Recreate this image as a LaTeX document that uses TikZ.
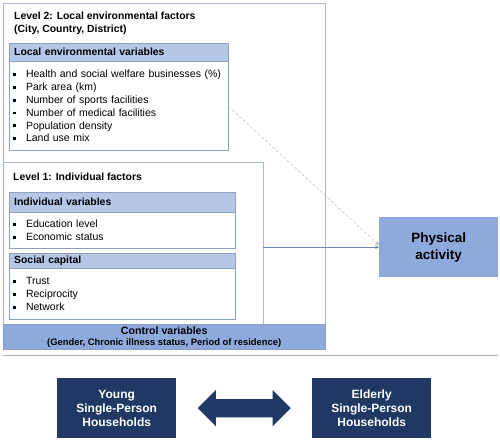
\documentclass[tikz,border=0pt]{standalone}
\usepackage{fontspec}
\setmainfont{Liberation Sans}
\usetikzlibrary{positioning,shapes.arrows,arrows.meta,calc}
\definecolor{frameline}{HTML}{ADB9CA}
\definecolor{boxline}{HTML}{8EA0BC}
\definecolor{headfill}{HTML}{B4C7E7}
\definecolor{pafill}{HTML}{8EA9DB}
\definecolor{navy}{HTML}{203864}
\definecolor{linkline}{HTML}{6F87AD}
\newcommand{\itm}{\raisebox{1.8pt}{\rule{2.8pt}{2.8pt}}\hspace{10pt}}

\begin{document}
\begin{tikzpicture}[%
  x=1pt, y=-1pt,
  level/.style={rectangle, draw=frameline, anchor=north west, inner sep=0pt},
  title/.style={anchor=north west, align=left, inner sep=0pt, font=\bfseries\fontsize{10.4}{13}\selectfont},
  head/.style={rectangle, draw=boxline, fill=headfill, inner xsep=5pt, inner ysep=0pt,
    minimum height=18pt, align=left, font=\bfseries\fontsize{10.4}{11}\selectfont},
  body/.style={rectangle, draw=boxline, fill=white, inner xsep=4pt, inner ysep=0pt,
    align=left, font=\fontsize{10.5}{12.8}\selectfont},
  group/.style={rectangle, fill=navy, text=white, align=center, minimum width=119pt,
    minimum height=60pt, font=\bfseries\fontsize{12}{14}\selectfont},
  link/.style={draw=linkline, thin, -{Stealth[length=4pt,width=3.5pt]}},
  ]
  \useasboundingbox (0,0) rectangle (500,443);
  % frames of the two levels
  \node[level, minimum width=322pt, minimum height=321pt] (lvtwo) at (3,3) {};
  \node[title] (lvtwotitle) at (14,11.5) {Level 2: Local environmental factors\\(City, Country, District)};
  \node[level, minimum width=260pt, minimum height=162pt] (lvone) at (3,162) {};
  \node[title] (lvonetitle) at (13,172.5) {Level 1: Individual factors};
  % local environmental variables
  \node[head, text width=209pt, anchor=north west] (envhead) at (9,43) {Local environmental variables};
  \node[body, text width=211pt, minimum height=89pt, below=0pt of envhead] (envbody)
    {\itm Health and social welfare businesses (\%)\\ \itm Park area (km)\\
     \itm Number of sports facilities\\ \itm Number of medical facilities\\
     \itm Population density\\ \itm Land use mix};
  % individual variables
  \node[head, text width=216pt, minimum height=20pt, anchor=north west] (indhead) at (9,192) {Individual variables};
  \node[body, text width=218pt, minimum height=36pt, below=0pt of indhead] (indbody)
    {\itm Education level\\ \itm Economic status};
  % social capital
  \node[head, text width=216pt, minimum height=15pt, anchor=north west] (sochead) at (9,253) {Social capital};
  \node[body, text width=218pt, minimum height=51pt, below=0pt of sochead] (socbody)
    {\itm Trust\\ \itm Reciprocity\\ \itm Network};
  % control variables
  \node[rectangle, draw=boxline, fill=pafill, anchor=north west, minimum width=322pt,
    minimum height=25pt, inner sep=0pt, align=center] (ctrl) at (3,324)
    {{\bfseries\fontsize{10.6}{11}\selectfont Control variables}\\[-1pt]
     {\bfseries\fontsize{9.4}{9}\selectfont (Gender, Chronic illness status, Period of residence)}};
  % outcome
  \node[rectangle, fill=pafill, anchor=north west, minimum width=119pt, minimum height=60pt,
    align=center, font=\bfseries\fontsize{13.5}{17}\selectfont] (pa) at (379,217) {Physical\\activity};
  \draw[link] (lvone.east |- pa.west) -- (pa.west);
  \draw[link, draw=gray!60, densely dashed] (envbody.east) -- ([yshift=2pt]pa.west);
  % separator
  \coordinate (sepleft) at (3,355);
  \coordinate (sepright) at (498,355);
  \draw[gray!60, line width=0.8pt] (sepleft) -- (sepright);
  % compared groups
  \node[group, anchor=north west] (young) at (57,378) {Young\\Single-Person\\Households};
  \node[group, anchor=north west] (elderly) at (312,378) {Elderly\\Single-Person\\Households};
  \node[double arrow, fill=navy, inner sep=9pt, double arrow head extend=9pt,
    minimum height=93pt] (swap) at ($(young.east)!0.5!(elderly.west)$) {};
\end{tikzpicture}
\end{document}
